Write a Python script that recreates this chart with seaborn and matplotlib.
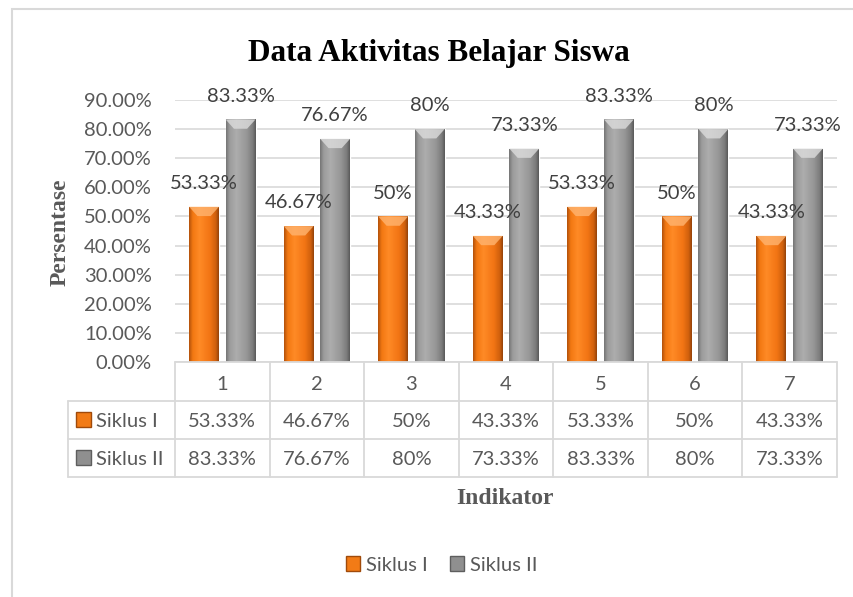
import matplotlib
matplotlib.use("Agg")
import matplotlib.pyplot as plt
import matplotlib.transforms as mtransforms
from matplotlib.colors import LinearSegmentedColormap
from matplotlib.patches import Rectangle, Polygon, Patch
from matplotlib.lines import Line2D
import numpy as np
import pandas as pd
import seaborn as sns

# Data
indikator = ['1', '2', '3', '4', '5', '6', '7']
siklus_1 = [53.33, 46.67, 50, 43.33, 53.33, 50, 43.33]
siklus_2 = [83.33, 76.67, 80, 73.33, 83.33, 80, 73.33]
seri = ['Siklus I', 'Siklus II']

df = pd.DataFrame({
    'Indikator': indikator * 2,
    'Nilai': siklus_1 + siklus_2,
    'Siklus': [seri[0]] * len(indikator) + [seri[1]] * len(indikator),
})

sns.set_theme(style='white')
plt.rcParams['font.family'] = ['Lato', 'DejaVu Sans']

W, H = 854, 597
fig = plt.figure(figsize=(W / 100, H / 100), dpi=100)
# plot area in pixels: left 175, right 837, top 100, bottom 362
ax = fig.add_axes([175 / W, 1 - 362 / H, 662 / W, 262 / H])

warna = ['#f27b16', '#8f8f8f']
sns.barplot(data=df, x='Indikator', y='Nilai', hue='Siklus', palette=warna,
            width=0.772, gap=0.18, saturation=1, legend=False, ax=ax)

# gradasi ala Excel
grad_oranye = LinearSegmentedColormap.from_list('o', [
    (0, '#b4520b'), (0.12, '#f27812'), (0.35, '#ff8a26'),
    (0.7, '#f27514'), (0.9, '#d0600d'), (1, '#96440a')])
grad_abu = LinearSegmentedColormap.from_list('g', [
    (0, '#767676'), (0.12, '#9c9c9c'), (0.35, '#adadad'),
    (0.7, '#969696'), (0.9, '#7c7c7c'), (1, '#5a5a5a')])
atas = ['#ffb470', '#dcdcdc']

bars = list(ax.patches)
n = len(indikator)
for k, p in enumerate(bars):
    s = 0 if k < n else 1
    x, w, h = p.get_x(), p.get_width(), p.get_height()
    im = ax.imshow(np.linspace(0, 1, 64).reshape(1, -1),
                   cmap=[grad_oranye, grad_abu][s], aspect='auto',
                   extent=[x, x + w, 0, h], zorder=p.get_zorder() + 0.1)
    im.set_clip_path(p)
    d = 3.2
    ax.add_patch(Polygon([(x, h), (x + w, h), (x + 0.72 * w, h - d), (x + 0.28 * w, h - d)],
                         closed=True, facecolor=atas[s], edgecolor='none', alpha=0.8,
                         zorder=p.get_zorder() + 0.2))
    lbl = f"{h:g}%"
    ax.text(x + w / 2, h + 6.1, lbl, ha='center', va='baseline', fontsize=14.5,
            color='#404040', clip_on=False, zorder=5)

ax.set_xlim(-0.5, len(indikator) - 0.5)
ax.set_ylim(0, 90)
ax.set_yticks(range(0, 91, 10))
ax.set_yticklabels([f"{t:.2f}%" for t in range(0, 91, 10)])
ax.tick_params(axis='y', length=0, pad=16.6, labelsize=14.5, labelcolor='#595959')
ax.set_xticks([])
ax.set_xlabel('')
ax.set_ylabel('')
ax.yaxis.grid(True, color='#d9d9d9', lw=1.2)
ax.set_axisbelow(True)
for sp in ax.spines.values():
    sp.set_visible(False)

# tabel data di bawah sumbu
trans = mtransforms.blended_transform_factory(ax.transData, ax.transAxes)
col_w = 662 / len(indikator)
row_px = [362, 401, 439, 477]
rows = [(362 - p) / 262 for p in row_px]
x_kiri = -0.5 - (175 - 68) / col_w
garis = dict(color='#d9d9d9', lw=1.3, transform=trans, clip_on=False)

ax.add_line(Line2D([-0.5, len(indikator) - 0.5], [rows[0], rows[0]], **garis))
for r in rows[1:]:
    ax.add_line(Line2D([x_kiri, len(indikator) - 0.5], [r, r], **garis))
ax.add_line(Line2D([x_kiri, x_kiri], [rows[1], rows[3]], **garis))
for i in range(len(indikator) + 1):
    ax.add_line(Line2D([i - 0.5, i - 0.5], [rows[0], rows[3]], **garis))

base_px = [390, 427, 465]
base = [(362 - p) / 262 for p in base_px]
teks = dict(transform=trans, ha='center', va='baseline', fontsize=14.5,
            color='#595959', clip_on=False)
for i, lab in enumerate(indikator):
    ax.text(i, base[0], lab, **teks)
    ax.text(i, base[1], f"{siklus_1[i]:g}%", **teks)
    ax.text(i, base[2], f"{siklus_2[i]:g}%", **teks)

for s, nama in enumerate(seri):
    ax.text(-0.5 - (175 - 96) / col_w, base[s + 1], nama, transform=trans,
            ha='left', va='baseline', fontsize=14.5, color='#595959', clip_on=False)
    y0 = (362 - base_px[s + 1]) / 262
    ax.add_patch(Rectangle((-0.5 - (175 - 76) / col_w, y0), 15 / col_w, 15 / 262,
                           transform=trans, facecolor=warna[s],
                           edgecolor=['#a04a0a', '#5e5e5e'][s], lw=1, clip_on=False))

# judul dan label sumbu
fig.text(439 / W, 1 - 61 / H, 'Data Aktivitas Belajar Siswa', ha='center', va='baseline',
         fontsize=22.5, fontweight='bold', family='Liberation Serif', color='black')
fig.text(60 / W, 1 - 232 / H, 'Persentase', rotation=90, ha='center', va='center',
         fontsize=17, fontweight='bold', family='Liberation Serif', color='#595959')
fig.text(505 / W, 1 - 504 / H, 'Indikator', ha='center', va='baseline',
         fontsize=17, fontweight='bold', family='Liberation Serif', color='#595959')

# legenda
handles = [Patch(facecolor=warna[s], edgecolor=['#a04a0a', '#5e5e5e'][s], label=seri[s])
           for s in range(2)]
fig.legend(handles=handles, loc='center', bbox_to_anchor=(442 / W, 1 - 565 / H), ncol=2,
           frameon=False, fontsize=14.5, labelcolor='#595959', handlelength=0.7,
           handleheight=0.7, handletextpad=0.3, columnspacing=1.1)

# bingkai luar
fig.add_artist(Rectangle((12 / W, -0.1), 2, 1.1 - 9 / H, transform=fig.transFigure,
                         fill=False, edgecolor='#d9d9d9', lw=1.5))

fig.savefig('out.png', dpi=100)
